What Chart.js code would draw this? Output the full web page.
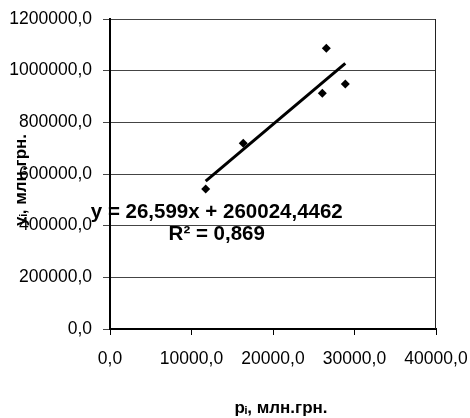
<!DOCTYPE html>
<html>
<head>
<meta charset="utf-8">
<script src="https://cdn.jsdelivr.net/npm/chart.js@4/dist/chart.umd.min.js"></script>
<style>
  body { margin: 0; background: #fff; }
  canvas { display: block; }
</style>
</head>
<body>
<canvas id="chart" width="470" height="418"></canvas>
<script>
// observed points (p_i, y_i), млн.грн.
const pValues = [11740, 16350, 26050, 26540, 28870]
const yValues = [541900, 718800, 912400, 1086500, 948400]

// linear trend as printed on the chart
const trendSlope = 26.599
const trendIntercept = 260024.4462
const trendLabel = ['y = 26,599x + 260024,4462', 'R² = 0,869']

const xTitle = 'pᵢ, млн.грн.'
const yTitle = 'yᵢ, млн.грн.'

const FONT = "'Liberation Sans', Arial, sans-serif"

const fmt = (v) => v.toFixed(1).replace('.', ',')

const points = pValues.map((p, i) => ({ x: p, y: yValues[i] }))
const pMin = Math.min(...pValues)
const pMax = Math.max(...pValues)
const trend = [pMin, pMax].map((x) => ({ x, y: trendSlope * x + trendIntercept }))

// right edge of the plot frame, axis titles (Excel puts them a bit off-centre) and the equation
const framePlugin = {
  id: 'frame',
  afterDraw(chart) {
    const { ctx, chartArea, scales } = chart
    const midX = (chartArea.left + chartArea.right) / 2
    const midY = (chartArea.top + chartArea.bottom) / 2
    ctx.save()
    ctx.strokeStyle = '#222'
    ctx.lineWidth = 1
    ctx.beginPath()
    ctx.moveTo(chartArea.right - 0.5, chartArea.top)
    ctx.lineTo(chartArea.right - 0.5, chartArea.bottom)
    ctx.stroke()

    ctx.fillStyle = '#000'
    ctx.font = 'bold 17px ' + FONT
    ctx.textAlign = 'center'
    ctx.textBaseline = 'middle'
    ctx.fillText(xTitle, midX + 8, chart.height - 10)
    ctx.save()
    ctx.translate(21, midY + 6)
    ctx.rotate(-Math.PI / 2)
    ctx.fillText(yTitle, 0, 0)
    ctx.restore()

    const cx = scales.x.getPixelForValue(13100)
    const cy = scales.y.getPixelForValue(430000)
    ctx.font = 'bold 20.5px ' + FONT
    ctx.textBaseline = 'alphabetic'
    ctx.fillText(trendLabel[0], cx, cy)
    ctx.fillText(trendLabel[1], cx, cy + 22)
    ctx.restore()
  },
}

new Chart(document.getElementById('chart'), {
  type: 'scatter',
  data: {
    datasets: [
      {
        data: points,
        pointStyle: 'rectRot',
        pointRadius: 4.5,
        backgroundColor: '#000',
        borderWidth: 0,
      },
      {
        type: 'line',
        data: trend,
        borderColor: '#000',
        borderWidth: 3,
        pointRadius: 0,
        fill: false,
      },
    ],
  },
  options: {
    responsive: false,
    animation: false,
    layout: { padding: { top: 19, right: 34, left: 0, bottom: 0 } },
    plugins: {
      legend: { display: false },
      tooltip: { enabled: false },
    },
    scales: {
      x: {
        type: 'linear',
        min: 0,
        max: 40000,
        afterFit: (s) => {
          s.height = 89
          s.paddingLeft = 0
          s.paddingRight = 0
        },
        ticks: {
          stepSize: 10000,
          padding: 14,
          color: '#000',
          maxRotation: 0,
          font: { family: FONT, size: 17.5 },
          callback: fmt,
        },
        grid: { drawOnChartArea: false, tickLength: 6, color: '#000' },
        border: { color: '#000', width: 2 },
      },
      y: {
        min: 0,
        max: 1200000,
        afterFit: (s) => {
          s.width = 110
          s.paddingTop = 0
          s.paddingBottom = 0
        },
        ticks: {
          stepSize: 200000,
          padding: 11,
          color: '#000',
          font: { family: FONT, size: 17.5 },
          callback: fmt,
        },
        grid: { color: '#444', tickLength: 7, lineWidth: 1 },
        border: { color: '#000', width: 2 },
      },
    },
  },
  plugins: [framePlugin],
})
</script>
</body>
</html>
